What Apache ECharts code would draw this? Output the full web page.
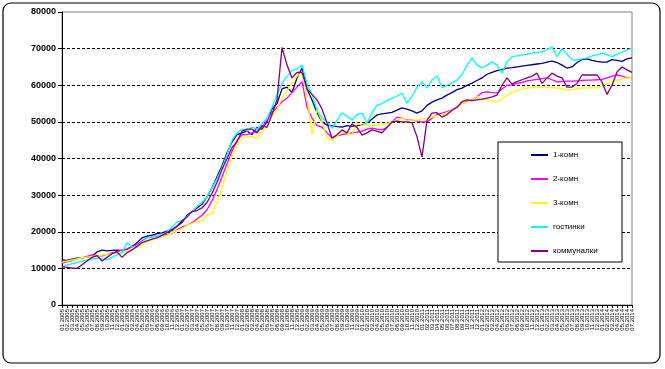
<!DOCTYPE html>
<html><head><meta charset="utf-8">
<script src="https://cdn.jsdelivr.net/npm/echarts@6/dist/echarts.min.js"></script>
<style>html,body{margin:0;padding:0;background:#fff}#c{width:665px;height:369px}</style>
</head><body><div id="c"></div>
<script>
const categories = [
"01.2005","02.2005","03.2005","04.2005","05.2005","06.2005","07.2005","08.2005","09.2005","10.2005","11.2005","12.2005",
"01.2006","02.2006","03.2006","04.2006","05.2006","06.2006","07.2006","08.2006","09.2006","10.2006","11.2006","12.2006",
"01.2007","02.2007","03.2007","04.2007","05.2007","06.2007","07.2007","08.2007","09.2007","10.2007","11.2007","12.2007",
"01.2008","02.2008","03.2008","04.2008","05.2008","06.2008","07.2008","08.2008","09.2008","10.2008","11.2008","12.2008",
"01.2009","02.2009","03.2009","04.2009","05.2009","06.2009","07.2009","08.2009","09.2009","10.2009","11.2009","12.2009",
"01.2010","02.2010","03.2010","04.2010","05.2010","06.2010","07.2010","08.2010","09.2010","10.2010","11.2010","12.2010",
"01.2011","02.2011","03.2011","04.2011","05.2011","06.2011","07.2011","08.2011","09.2011","10.2011","11.2011","12.2011",
"01.2012","02.2012","03.2012","04.2012","05.2012","06.2012","07.2012","08.2012","09.2012","10.2012","11.2012","12.2012",
"01.2013","02.2013","03.2013","04.2013","05.2013","06.2013","07.2013","08.2013","09.2013","10.2013","11.2013","12.2013",
"01.2014","02.2014","03.2014","04.2014","05.2014","06.2014","07.2014"];

const seriesNames = ["1-комн","2-комн","3-комн","гостинки","коммуналки"];

const room1 = [12300,12200,12500,12800,12900,13100,13300,14500,15000,14800,14900,15000,14900,15200,16000,17000,18300,18800,19100,19500,19700,20200,20600,21500,22500,24500,25500,26500,
27500,29500,32000,35000,38000,41500,44500,46500,47000,47500,46500,48500,48000,50000,53500,
55000,59000,59500,58000,62000,64700,
59000,56000,52500,50000,49100,49000,48700,48600,49000,48800,49000,49200,49500,50800,51900,52200,52400,52600,53200,53800,53500,53000,52400,53000,54500,55400,56000,56500,57300,58000,
58800,59200,60000,60600,61300,62000,63000,63500,64000,64300,64700,64800,65000,65200,65400,65600,65800,66000,66300,66600,66200,65500,64700,65000,66200,67000,67200,66800,66500,66300,66300,67000,66800,66500,67200,67500];

const room2 = [11400,11800,12200,12600,12900,13300,13700,13500,13400,13800,14200,14600,15000,15300,15900,16500,17500,18300,18600,18900,19100,19300,19500,20500,21300,21800,22500,23500,
24500,26000,28500,31500,35000,38500,42000,45000,46500,46500,47000,47500,48500,50500,52500,
54000,55500,56500,58000,59500,61000,
54000,51000,49000,48600,47000,45600,46200,46500,46800,47000,47200,47500,48000,48300,48000,47800,48500,50000,51300,51000,50500,50500,50300,50000,50000,51000,52000,52400,52800,53300,
54000,55000,55500,56000,56800,58000,58200,58000,57900,59000,60000,60100,60500,60800,61200,61400,61600,61800,62000,61500,60900,61000,61100,61100,61200,61300,61400,61400,61500,61600,62000,62500,62800,62500,62000,61800];

const room3 = [11700,12000,12300,12600,12900,13100,13300,13400,13600,13800,14000,14100,14200,14600,15300,15800,16500,17300,17800,18300,18500,19000,19700,20300,20800,21800,22300,22800,
23000,24500,25000,28000,32000,36500,40500,43500,45500,46000,46000,45500,47500,48500,51500,
53500,56500,58500,60500,62500,63500,
56800,46500,53500,50000,45500,45000,46000,47200,47000,46400,49700,49000,49500,49000,49100,49300,49500,50000,50500,51100,50300,50500,50500,50800,51000,51300,51700,51900,52500,53200,
54000,55000,55400,55800,57000,56000,56000,55800,55400,56300,57300,58000,58500,59000,59300,59300,59500,59500,59400,59300,59300,59000,58700,58800,59000,59200,59300,59300,59300,60000,60500,60900,61300,61700,62000,61700];

const hostel = [10400,10900,11300,11600,12000,12300,12500,12800,12600,12300,13000,13700,14300,17000,15800,16000,17200,18300,18600,19000,19100,20000,21300,22700,23000,24200,25400,27000,
28000,29500,32000,34500,37500,41000,45000,47000,48000,47500,48500,48000,49500,51000,54000,
57500,60500,62500,64000,64500,65500,
60500,57500,53200,51000,50000,48300,50500,52500,51500,50500,52000,52400,49700,52500,54600,55000,55800,56500,57000,57900,55100,57000,59500,60900,59300,61500,62500,59300,60000,60600,
61400,63000,65500,67500,65500,64700,65500,66300,65500,63300,66500,67800,68000,68300,68500,68800,69000,69100,69800,70400,67800,70000,68500,67000,66900,67200,67500,68000,68300,68800,68300,67800,68500,69000,69700,70000];

const communal = [10400,10300,10100,10000,11000,12000,13000,13500,12000,13000,14000,14500,13000,14300,15000,16000,17000,17500,18000,18300,19000,19800,20300,21500,23000,24000,25500,25800,
26500,28000,30500,33500,37000,40000,43000,44500,47500,48000,48000,47000,49000,48500,52000,
56000,70300,65500,62000,63500,63500,
59000,57500,56000,53500,49700,45600,46500,47800,47000,49500,48500,46400,47000,47800,47500,47000,48500,50000,50200,50000,50000,49800,45900,40400,50500,52400,52500,51300,52000,53200,
54000,55500,56000,55800,56000,56200,56500,56800,57300,60000,62000,60300,61000,61500,62000,62500,63300,60500,62000,63300,62500,62000,59500,59500,60500,62800,62800,62800,62800,60900,57500,60000,63600,65000,64200,63500];

const colors = ["#000080","#FF00FF","#FFFF00","#00FFFF","#800080"];
const dataSets = [room1, room2, room3, hostel, communal];
const FONT = "'Liberation Sans', Arial, sans-serif";

const chart = echarts.init(document.getElementById('c'), null, {renderer:'canvas'});
chart.setOption({
  animation:false,
  backgroundColor:'#ffffff',
  grid:{left:62,right:33,top:12,bottom:64,show:true,borderColor:'#808080',borderWidth:1,backgroundColor:'transparent'},
  xAxis:{type:'category',boundaryGap:false,data:categories,
    axisLine:{lineStyle:{color:'#000',width:1}},
    axisTick:{show:true,length:3,interval:0,lineStyle:{color:'#000'}},
    axisLabel:{rotate:90,interval:0,fontSize:6,color:'#000',fontFamily:FONT,margin:4},
    splitLine:{show:false}},
  yAxis:{type:'value',min:0,max:80000,interval:10000,
    axisLine:{show:true,lineStyle:{color:'#000',width:1}},
    axisTick:{show:true,length:4,lineStyle:{color:'#000'}},
    axisLabel:{fontSize:9,fontWeight:'bold',color:'#000',fontFamily:FONT,margin:6,formatter:v=>String(v)},
    splitLine:{show:true,showMinLine:false,showMaxLine:false,lineStyle:{color:'#000',type:[3,2],width:1}}},
  legend:{orient:'vertical',left:526,top:146,itemGap:16,icon:'rect',itemWidth:17,itemHeight:2,z:20,
    textStyle:{fontSize:8,color:'#000',fontFamily:FONT},data:seriesNames},
  graphic:[
    {type:'rect',z:15,shape:{x:498,y:142,width:124,height:120},style:{fill:'#fff',stroke:'#000',lineWidth:1}},
    {type:'rect',z:1,shape:{x:3,y:3,width:657,height:360,r:8},style:{fill:'none',stroke:'#000',lineWidth:1.2}}
  ],
  series: seriesNames.map((n,i)=>({name:n,type:'line',data:dataSets[i],symbol:'none',
    lineStyle:{color:colors[i],width:1.3},itemStyle:{color:colors[i]},z:2+i}))
});
</script></body></html>
